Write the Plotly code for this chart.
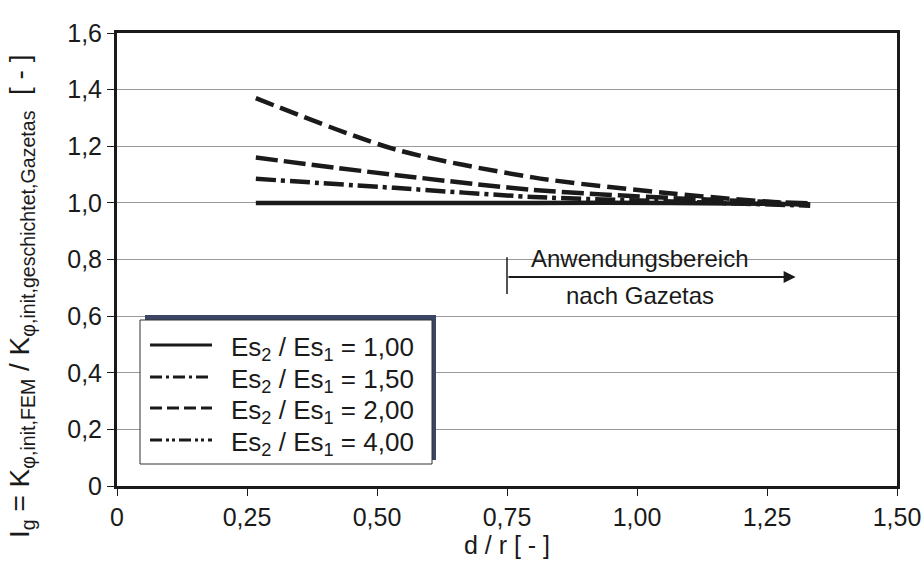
import plotly.graph_objects as go

# d / r values of the FEM runs
d_over_r = [0.267, 0.533, 0.800, 1.067, 1.333]

# I_g for the stiffness ratios Es2 / Es1
ig_100 = [1.000, 1.000, 1.000, 1.000, 0.995]
ig_150 = [1.085, 1.053, 1.021, 1.005, 0.990]
ig_200 = [1.160, 1.099, 1.046, 1.017, 0.998]
ig_400 = [1.370, 1.190, 1.090, 1.033, 0.992]

series_names = [
    "Es<sub>2</sub> / Es<sub>1</sub> = 1,00",
    "Es<sub>2</sub> / Es<sub>1</sub> = 1,50",
    "Es<sub>2</sub> / Es<sub>1</sub> = 2,00",
    "Es<sub>2</sub> / Es<sub>1</sub> = 4,00",
]

x_ticks = [0, 0.25, 0.5, 0.75, 1.0, 1.25, 1.5]
x_tick_text = ["0", "0,25", "0,50", "0,75", "1,00", "1,25", "1,50"]
y_ticks = [0, 0.2, 0.4, 0.6, 0.8, 1.0, 1.2, 1.4, 1.6]
y_tick_text = ["0", "0,2", "0,4", "0,6", "0,8", "1,0", "1,2", "1,4", "1,6"]

# range of validity after Gazetas
range_start = 0.75
range_end = 1.305
range_y = 0.738

INK = "#1a1a1a"
FONT = "Liberation Sans, Arial, sans-serif"
FS = 25

# plot area in pixels (for placing the legend box)
L, R, T, B = 117, 897, 33, 486


def px(xp):
    return (xp - L) / (R - L)


def py(yp):
    return (B - yp) / (B - T)


curve_styles = [
    dict(dash="solid"),
    dict(dash="20px,5px,4px,5px"),
    dict(dash="22px,6px"),
    dict(dash="19px,7px"),
]
legend_styles = [
    "solid",
    "12px,4px,3px,4px",
    "12px,5px",
    "12px,4px,3px,3px,3px,4px",
]

fig = go.Figure()

for ys, name, st in zip([ig_100, ig_150, ig_200, ig_400], series_names, curve_styles):
    fig.add_trace(go.Scatter(
        x=d_over_r, y=ys, mode="lines", name=name, showlegend=False,
        line=dict(color=INK, width=4.5, shape="spline", smoothing=0.8, **st),
        hoverinfo="skip",
    ))

shapes = [
    # legend shadow and box
    dict(type="rect", xref="paper", yref="paper", layer="above",
         x0=px(145), x1=px(436), y0=py(460), y1=py(315),
         fillcolor="#3b4664", line=dict(width=0)),
    dict(type="rect", xref="paper", yref="paper", layer="above",
         x0=px(140), x1=px(432), y0=py(464), y1=py(320),
         fillcolor="white", line=dict(color="#333", width=1)),
    # white backing behind the range annotation
    dict(type="rect", xref="x", yref="y", layer="below",
         x0=0.673, x1=1.342, y0=0.62, y1=0.86,
         fillcolor="white", line=dict(width=0)),
    # start mark of the range
    dict(type="line", xref="x", yref="y",
         x0=range_start, x1=range_start, y0=range_y - 0.06, y1=range_y + 0.07,
         line=dict(color=INK, width=1.5)),
]

annotations = [
    dict(x=range_end, y=range_y, ax=range_start, ay=range_y,
         xref="x", yref="y", axref="x", ayref="y",
         showarrow=True, arrowhead=2, arrowsize=1.2, arrowwidth=2,
         arrowcolor=INK, text=""),
    dict(x=1.006, y=0.805, xref="x", yref="y", showarrow=False,
         text="Anwendungsbereich", font=dict(size=24, color=INK, family=FONT)),
    dict(x=1.006, y=0.672, xref="x", yref="y", showarrow=False,
         text="nach Gazetas", font=dict(size=24, color=INK, family=FONT)),
    dict(x=(21 - L) / (R - L), y=py(297), xref="paper", yref="paper",
         xanchor="center", yanchor="middle",
         showarrow=False, textangle=-90,
         text="I<sub>g</sub> = K<sub>φ,init,FEM</sub> / "
              "K<sub>φ,init,geschichtet,Gazetas</sub>  [ - ]",
         font=dict(size=28, color=INK, family=FONT)),
]

# legend rows: line sample plus label
row_y = [345, 377, 408, 440]
for yp, name, dash in zip(row_y, series_names, legend_styles):
    shapes.append(dict(type="line", xref="paper", yref="paper", layer="above",
                       x0=px(150), x1=px(212), y0=py(yp), y1=py(yp),
                       line=dict(color=INK, width=3, dash=dash)))
    annotations.append(dict(x=px(229), y=py(yp + 3), xref="paper", yref="paper",
                            xanchor="left", yanchor="middle", showarrow=False,
                            text=name, font=dict(size=26, color=INK, family=FONT)))

fig.update_layout(
    width=924, height=572,
    margin=dict(l=L, r=924 - R, t=T, b=572 - B),
    paper_bgcolor="white", plot_bgcolor="white",
    font=dict(family=FONT, color=INK, size=FS),
    shapes=shapes, annotations=annotations,
    showlegend=False,
    xaxis=dict(
        range=[0, 1.5], tickvals=x_ticks, ticktext=x_tick_text,
        showgrid=False, zeroline=False, automargin=False,
        showline=True, linewidth=3, linecolor=INK, mirror=True,
        ticks="outside", ticklen=7, tickwidth=1, tickcolor=INK,
        tickfont=dict(size=FS, color=INK),
        title=dict(text="d / r [ - ]", font=dict(size=FS, color=INK), standoff=6),
    ),
    yaxis=dict(
        range=[0, 1.6], tickvals=y_ticks, ticktext=y_tick_text,
        showgrid=True, gridcolor="#9a9a9a", gridwidth=1, zeroline=False,
        automargin=False,
        showline=True, linewidth=3, linecolor=INK, mirror=True,
        ticks="outside", ticklen=7, tickwidth=1, tickcolor=INK,
        tickfont=dict(size=FS, color=INK),
    ),
)

fig.write_html("out.html")
